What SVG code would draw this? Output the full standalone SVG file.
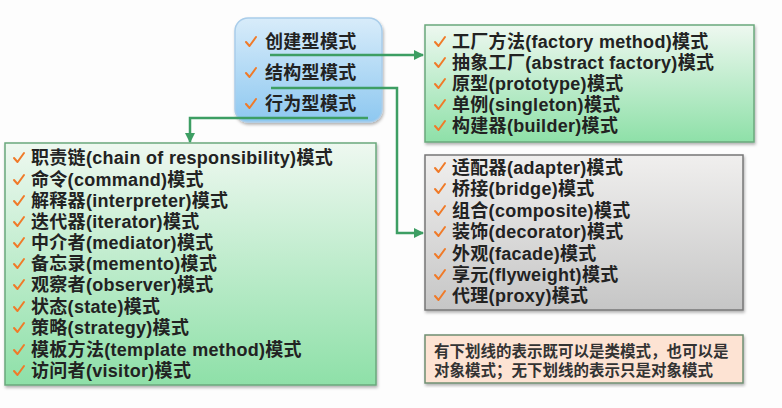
<svg xmlns="http://www.w3.org/2000/svg" width="782" height="408" viewBox="0 0 782 408">
<defs>
<linearGradient id="gBlue" x1="0" y1="0" x2="0" y2="1"><stop offset="0" stop-color="#d8ecfa"/><stop offset="1" stop-color="#8ec8f0"/></linearGradient>
<linearGradient id="gGreen" x1="0" y1="0" x2="0" y2="1"><stop offset="0" stop-color="#eef8f0"/><stop offset="1" stop-color="#8ee0a8"/></linearGradient>
<linearGradient id="gGray" x1="0" y1="0" x2="0" y2="1"><stop offset="0" stop-color="#f0efee"/><stop offset="1" stop-color="#c6c6c6"/></linearGradient>
<filter id="sh" x="-5%" y="-5%" width="110%" height="115%"><feDropShadow dx="1" dy="2" stdDeviation="1.5" flood-color="#000" flood-opacity="0.3"/></filter>
<marker id="arr" viewBox="0 0 10 10" refX="9" refY="5" markerWidth="4" markerHeight="4" orient="auto"><path d="M0,0 L10,5 L0,10 z" fill="#3d9e63"/></marker>
<path id="ck" d="M-5,0 L-1.5,4 L5,-5" fill="none" stroke="#f07a28" stroke-width="2" stroke-linecap="round" stroke-linejoin="round"/>
</defs>
<style>
text{font-family:"Liberation Sans","Noto Sans CJK SC",sans-serif;font-weight:bold;fill:#222;}
.it{font-size:18px;letter-spacing:0.3px;}
.nt{font-size:15.5px;fill:#333;}
.ln{fill:none;stroke:#3d9e63;stroke-width:2.5;}
</style>
<rect width="782" height="408" fill="#fdfdfd"/>
<g id="types">
<rect x="235" y="18" width="147" height="104" rx="13" fill="url(#gBlue)" stroke="#a9cdea" stroke-width="1.5" filter="url(#sh)"/>
<use href="#ck" x="251" y="42"/><text class="it" x="265" y="48">创建型模式</text>
<use href="#ck" x="251" y="73"/><text class="it" x="265" y="79">结构型模式</text>
<use href="#ck" x="251" y="104"/><text class="it" x="265" y="110">行为型模式</text>
</g>
<g id="creational">
<rect x="425" y="25" width="329" height="117" fill="url(#gGreen)" stroke="#6aa87c" stroke-width="1.5" filter="url(#sh)"/>
<use href="#ck" x="440" y="42"/><text class="it" x="452" y="48">工厂方法(factory method)模式</text>
<use href="#ck" x="440" y="63"/><text class="it" x="452" y="69">抽象工厂(abstract factory)模式</text>
<use href="#ck" x="440" y="84"/><text class="it" x="452" y="90">原型(prototype)模式</text>
<use href="#ck" x="440" y="105"/><text class="it" x="452" y="111">单例(singleton)模式</text>
<use href="#ck" x="440" y="126"/><text class="it" x="452" y="132">构建器(builder)模式</text>
</g>
<g id="structural">
<rect x="425" y="155" width="318" height="155" fill="url(#gGray)" stroke="#777" stroke-width="1.5" filter="url(#sh)"/>
<use href="#ck" x="440" y="168"/><text class="it" x="452" y="174">适配器(adapter)模式</text>
<use href="#ck" x="440" y="189"/><text class="it" x="452" y="195">桥接(bridge)模式</text>
<use href="#ck" x="440" y="211"/><text class="it" x="452" y="217">组合(composite)模式</text>
<use href="#ck" x="440" y="232"/><text class="it" x="452" y="238">装饰(decorator)模式</text>
<use href="#ck" x="440" y="254"/><text class="it" x="452" y="260">外观(facade)模式</text>
<use href="#ck" x="440" y="275"/><text class="it" x="452" y="281">享元(flyweight)模式</text>
<use href="#ck" x="440" y="296"/><text class="it" x="452" y="302">代理(proxy)模式</text>
</g>
<g id="behavioral">
<rect x="5" y="143" width="371" height="242" fill="url(#gGreen)" stroke="#6aa87c" stroke-width="1.5" filter="url(#sh)"/>
<use href="#ck" x="19" y="158"/><text class="it" x="31" y="164">职责链(chain of responsibility)模式</text>
<use href="#ck" x="19" y="180"/><text class="it" x="31" y="186">命令(command)模式</text>
<use href="#ck" x="19" y="201"/><text class="it" x="31" y="207">解释器(interpreter)模式</text>
<use href="#ck" x="19" y="222"/><text class="it" x="31" y="228">迭代器(iterator)模式</text>
<use href="#ck" x="19" y="243"/><text class="it" x="31" y="249">中介者(mediator)模式</text>
<use href="#ck" x="19" y="264"/><text class="it" x="31" y="270">备忘录(memento)模式</text>
<use href="#ck" x="19" y="285"/><text class="it" x="31" y="291">观察者(observer)模式</text>
<use href="#ck" x="19" y="307"/><text class="it" x="31" y="313">状态(state)模式</text>
<use href="#ck" x="19" y="328"/><text class="it" x="31" y="334">策略(strategy)模式</text>
<use href="#ck" x="19" y="350"/><text class="it" x="31" y="356">模板方法(template method)模式</text>
<use href="#ck" x="19" y="371"/><text class="it" x="31" y="377">访问者(visitor)模式</text>
</g>
<g id="note">
<rect x="425" y="335" width="318" height="48" fill="#fde3d3" stroke="#6f8f72" stroke-width="1.5" filter="url(#sh)"/>
<text class="nt" x="434" y="357">有下划线的表示既可以是类模式，也可以是</text>
<text class="nt" x="434" y="376">对象模式；无下划线的表示只是对象模式</text>
</g>
<g id="connectors">
<path class="ln" d="M270,55 H423" marker-end="url(#arr)"/>
<path class="ln" d="M271,88 H397 V233 H423" marker-end="url(#arr)"/>
<path class="ln" d="M368,118 H190 V142" marker-end="url(#arr)"/>
</g>
</svg>
